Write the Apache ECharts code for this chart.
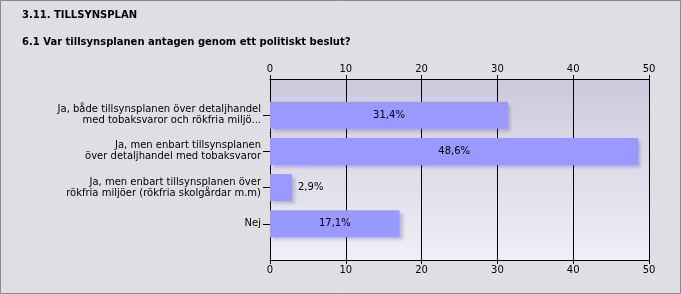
<!DOCTYPE html>
<html><head><meta charset="utf-8">
<script src="https://cdn.jsdelivr.net/npm/echarts@6/dist/echarts.min.js"></script>
<style>html,body{margin:0;padding:0;background:#dfdee3}#c{width:681px;height:294px}</style>
</head><body><div id="c"></div>
<script>
const title = '3.11. TILLSYNSPLAN';
const question = '6.1 Var tillsynsplanen antagen genom ett politiskt beslut?';
const categories = [
  'Ja, både tillsynsplanen över detaljhandel\nmed tobaksvaror och rökfria miljö...',
  'Ja, men enbart tillsynsplanen\növer detaljhandel med tobaksvaror',
  'Ja, men enbart tillsynsplanen över\nrökfria miljöer (rökfria skolgårdar m.m)',
  'Nej'
];
const values = [31.4, 48.6, 2.9, 17.1];
const valueLabels = ['31,4%', '48,6%', '2,9%', '17,1%'];
const axisMin = 0, axisMax = 50, axisStep = 10;

const cats = [''].concat(categories).concat(['']);
const data = [null].concat(values.map((v, i) => ({
  value: v,
  label: { formatter: valueLabels[i], position: v < 8 ? 'right' : 'inside' }
}))).concat([null]);

const font = 'Verdana, "DejaVu Sans", sans-serif';
const chart = echarts.init(document.getElementById('c'), null, {renderer: 'canvas'});
const xCommon = {
  type: 'value', min: axisMin, max: axisMax, interval: axisStep,
  axisLine: {show: true, lineStyle: {color: '#000', width: 1}},
  axisTick: {show: true, length: 4, lineStyle: {color: '#000'}},
  axisLabel: {color: '#000', fontFamily: font, fontSize: 10, margin: 5},
  splitLine: {show: true, lineStyle: {color: '#000', width: 1}}
};
chart.setOption({
  backgroundColor: '#dfdee3',
  animation: false,
  graphic: [
    {type: 'rect', shape: {x: 0.5, y: 0.5, width: 680, height: 293}, style: {fill: null, stroke: '#8a8a8a', lineWidth: 1}, z: 100},
    {type: 'text', left: 22, top: 10, style: {text: title, font: 'bold 10px ' + font, fill: '#000'}},
    {type: 'text', left: 22, top: 37, style: {text: question, font: 'bold 10px ' + font, fill: '#000'}}
  ],
  grid: {left: 270, right: 32, top: 79, bottom: 34, show: true, borderWidth: 0,
    backgroundColor: {type: 'linear', x: 0, y: 0, x2: 0, y2: 1,
      colorStops: [{offset: 0, color: '#cbcadb'}, {offset: 1, color: '#efeff7'}]}},
  xAxis: [
    Object.assign({position: 'top'}, xCommon),
    Object.assign({position: 'bottom'}, xCommon)
  ],
  yAxis: {
    type: 'category', data: cats, inverse: true, boundaryGap: false,
    axisLine: {show: true, lineStyle: {color: '#000', width: 1}},
    axisTick: {show: true, length: 7, lineStyle: {color: '#000'},
      interval: (i, v) => v !== ''},
    axisLabel: {color: '#000', fontFamily: font, fontSize: 10, lineHeight: 11, align: 'right', margin: 9,
      interval: 0},
    splitLine: {show: false}
  },
  series: [{
    type: 'bar', xAxisIndex: 0, data: data, barWidth: 27,
    itemStyle: {color: '#9999ff', shadowColor: 'rgba(0,0,0,0.18)', shadowOffsetX: 3, shadowOffsetY: 3, shadowBlur: 3},
    label: {show: true, color: '#000', fontFamily: font, fontSize: 10, distance: 6},
    emphasis: {disabled: true}
  }]
});
</script></body></html>
